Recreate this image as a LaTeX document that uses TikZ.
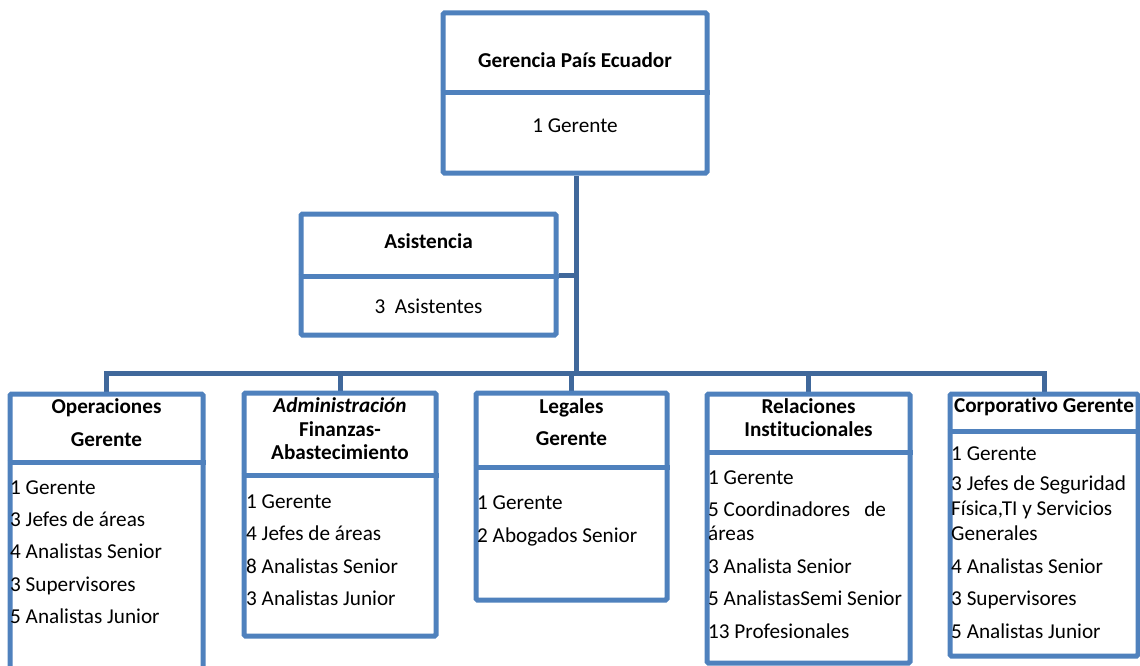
\documentclass[tikz,border=0pt]{standalone}
\usepackage{fontspec}
\setmainfont{Carlito}[Ligatures=NoCommon]
\usetikzlibrary{backgrounds}
\definecolor{boxblue}{RGB}{79,129,189}
\definecolor{connblue}{RGB}{64,104,155}
\begin{document}
\begin{tikzpicture}[x=1pt,y=-1pt,
  box/.style={draw=boxblue,line width=5pt,fill=white,rounded corners=1.5pt,inner sep=0pt},
  divider/.style={draw=boxblue,line width=5pt},
  conn/.style={draw=connblue,line width=5pt},
  title/.style={font=\fontsize{21.2}{24}\selectfont\bfseries,anchor=base,inner sep=0pt},
  ctext/.style={font=\fontsize{21.2}{24}\selectfont,anchor=base,inner sep=0pt},
  item/.style={font=\fontsize{21.2}{24}\selectfont,anchor=base west,inner sep=0pt}]
\useasboundingbox (0,0) rectangle (1140,666);

% boxes
\node[box,minimum width=264pt,minimum height=160pt] (b0) at (575,93) {};
\node[box,minimum width=255pt,minimum height=121pt] (as) at (428.5,274.5) {};
\node[box,minimum width=193pt,minimum height=296pt] (b1) at (106.5,542) {};
\node[box,minimum width=192pt,minimum height=243pt] (b2) at (340,514.5) {};
\node[box,minimum width=191pt,minimum height=207pt] (b3) at (571.5,496.5) {};
\node[box,minimum width=203pt,minimum height=269pt] (b4) at (808.5,528.5) {};
\node[box,minimum width=188pt,minimum height=262pt] (b5) at (1044,525) {};

% helper coordinates
\coordinate (j) at (576,373);
\coordinate (ta) at (576,275);
\coordinate (d0) at (0,93);
\coordinate (da) at (0,276);
\coordinate (d1) at (0,462);
\coordinate (d2) at (0,475);
\coordinate (d3) at (0,467);
\coordinate (d4) at (0,452);
\coordinate (d5) at (0,431);

% connectors
\begin{scope}[on background layer]
\draw[conn] (b0.south -| j) -- (j);
\draw[conn] (as.east |- ta) -- (ta);
\draw[conn,line join=miter] (b1.north) -- (b1.north |- j) -- (b5.north |- j) -- (b5.north);
\draw[conn] (b2.north |- j) -- (b2.north);
\draw[conn] (b3.north |- j) -- (b3.north);
\draw[conn] (b4.north |- j) -- (b4.north);
\end{scope}

% dividers
\draw[divider] (b0.west |- d0) -- (b0.east |- d0);
\draw[divider] (as.west |- da) -- (as.east |- da);
\draw[divider] (b1.west |- d1) -- (b1.east |- d1);
\draw[divider] (b2.west |- d2) -- (b2.east |- d2);
\draw[divider] (b3.west |- d3) -- (b3.east |- d3);
\draw[divider] (b4.west |- d4) -- (b4.east |- d4);
\draw[divider] (b5.west |- d5) -- (b5.east |- d5);

% top
\node[title] (t0) at (575,67.5) {Gerencia País Ecuador};
\node[ctext] (t0a) at (575,132) {1 Gerente};
% asistencia
\node[title] (ta1) at (428.5,248.5) {Asistencia};
\node[ctext] (ta2) at (428.5,313) {3~ Asistentes};

% box 1
\node[title] (t1a) at (106.5,413) {Operaciones};
\node[title] (t1b) at (106.5,446) {Gerente};
\node[item] (i1a) at (10,494) {1 Gerente};
\node[item] (i1b) at (10,526.3) {3 Jefes de áreas};
\node[item] (i1c) at (10,558.6) {4 Analistas Senior};
\node[item] (i1d) at (10,591) {3 Supervisores};
\node[item] (i1e) at (10,623.3) {5 Analistas Junior};

% box 2
\node[title] (t2a) at (340,412.7) {\itshape Administración};
\node[title] (t2b) at (340,436) {Finanzas-};
\node[title] (t2c) at (340,459.3) {Abastecimiento};
\node[item] (i2a) at (246,508.3) {1 Gerente};
\node[item] (i2b) at (246,540.6) {4 Jefes de áreas};
\node[item] (i2c) at (246,573) {8 Analistas Senior};
\node[item] (i2d) at (246,605) {3 Analistas Junior};

% box 3
\node[title] (t3a) at (571.5,413) {Legales};
\node[title] (t3b) at (571.5,445.5) {Gerente};
\node[item] (i3a) at (477,509.3) {1 Gerente};
\node[item] (i3b) at (477,542.7) {2 Abogados Senior};

% box 4
\node[title] (t4a) at (808.5,413.3) {Relaciones};
\node[title] (t4b) at (808.5,436) {Institucionales};
\node[item] (i4a) at (708,484.3) {1 Gerente};
\node[item] (i4b) at (708,516.7) {5 Coordinadores\hspace{0.45em} de};
\node[item] (i4c) at (708,540) {áreas};
\node[item] (i4d) at (708,573.3) {3 Analista Senior};
\node[item] (i4e) at (708,605.5) {5 AnalistasSemi Senior};
\node[item] (i4f) at (708,638.3) {13 Profesionales};

% box 5
\node[title] (t5a) at (1044,412.7) {Corporativo Gerente};
\node[item] (i5a) at (951,460.7) {1 Gerente};
\node[item] (i5b) at (951,490) {3 Jefes de Seguridad};
\node[item] (i5c) at (951,515.7) {Física,TI y Servicios};
\node[item] (i5d) at (951,540) {Generales};
\node[item] (i5e) at (951,573.3) {4 Analistas Senior};
\node[item] (i5f) at (951,605.7) {3 Supervisores};
\node[item] (i5g) at (951,638.3) {5 Analistas Junior};
\end{tikzpicture}
\end{document}
